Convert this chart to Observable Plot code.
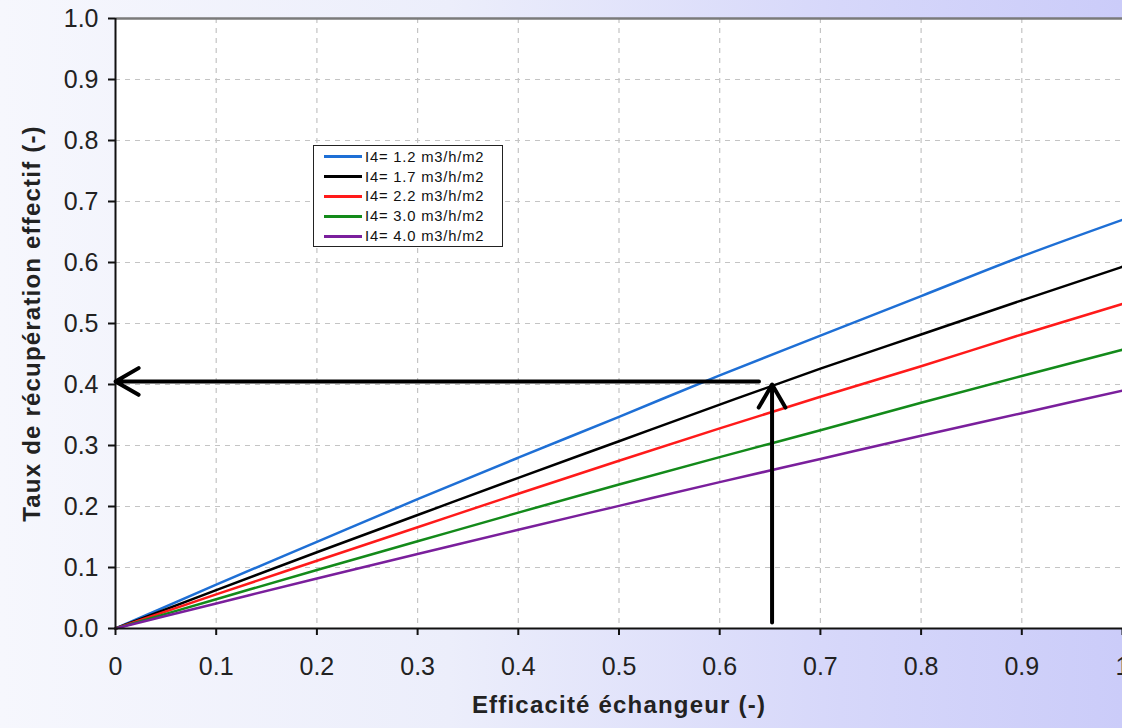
<!DOCTYPE html>
<html>
<head>
<meta charset="utf-8">
<script src="https://cdn.jsdelivr.net/npm/d3@7"></script>
<script src="https://cdn.jsdelivr.net/npm/@observablehq/plot@0.6"></script>
<style>
  html, body { margin: 0; padding: 0; }
  body {
    width: 1122px; height: 728px; overflow: hidden;
    background: linear-gradient(to right, #f6f7fd 0%, #eceefb 40%, #d6d7fa 75%, #cbccf9 100%);
    font-family: "Liberation Sans", Arial, sans-serif;
  }
  #wrap { position: relative; width: 1122px; height: 728px; }
  #legend {
    position: absolute; left: 313px; top: 145px; width: 190px; height: 102px;
    background: white; border: 1.5px solid #222; box-sizing: border-box;
    padding-top: 1px;
  }
  .row { display: flex; align-items: center; height: 19.8px; }
  .sw { width: 38px; height: 3px; margin-left: 10px; margin-right: 3px; }
  .lab { font-size: 14.8px; letter-spacing: 0.8px; color: #111; white-space: nowrap; }
</style>
</head>
<body>
<div id="wrap"></div>
<script>
// ---- data ----
const xValues = [0, 0.1, 0.2, 0.3, 0.4, 0.5, 0.6, 0.7, 0.8, 0.9, 1.0];
const seriesNames = ["I4= 1.2 m3/h/m2", "I4= 1.7 m3/h/m2", "I4= 2.2 m3/h/m2", "I4= 3.0 m3/h/m2", "I4= 4.0 m3/h/m2"];
const seriesColors = ["#1e6fd5", "#000000", "#ff1a1a", "#138a1a", "#7a1f9c"];
const y12 = [0, 0.072, 0.142, 0.212, 0.280, 0.347, 0.415, 0.480, 0.545, 0.610, 0.670];
const y17 = [0, 0.063, 0.125, 0.186, 0.247, 0.307, 0.367, 0.426, 0.482, 0.538, 0.593];
const y22 = [0, 0.056, 0.111, 0.166, 0.221, 0.275, 0.328, 0.380, 0.430, 0.482, 0.532];
const y30 = [0, 0.048, 0.096, 0.143, 0.190, 0.236, 0.281, 0.325, 0.370, 0.414, 0.457];
const y40 = [0, 0.041, 0.082, 0.122, 0.162, 0.201, 0.240, 0.278, 0.316, 0.353, 0.390];
const seriesValues = [y12, y17, y22, y30, y40];
const xTicks = [0, 0.1, 0.2, 0.3, 0.4, 0.5, 0.6, 0.7, 0.8, 0.9, 1];
const yTicks = [0, 0.1, 0.2, 0.3, 0.4, 0.5, 0.6, 0.7, 0.8, 0.9, 1.0];
const gridX = [0.1, 0.2, 0.3, 0.4, 0.5, 0.6, 0.7, 0.8, 0.9];
const gridY = [0.1, 0.2, 0.3, 0.4, 0.5, 0.6, 0.7, 0.8, 0.9];
// annotation arrows: [x1, y1, x2, y2]
const arrowStartX = [0.639, 0.652];
const arrowStartY = [0.405, 0.01];
const arrowEndX = [0.0, 0.652];
const arrowEndY = [0.405, 0.400];
const xLabel = "Efficacité échangeur (-)";
const yLabel = "Taux de récupération effectif (-)";

const rows = [];
seriesNames.forEach((s, i) => xValues.forEach((x, j) => rows.push({series: s, x, y: seriesValues[i][j]})));
const arrows = arrowStartX.map((d, i) => ({x1: d, y1: arrowStartY[i], x2: arrowEndX[i], y2: arrowEndY[i]}));

const font = "Liberation Sans, Arial, sans-serif";

const chart = Plot.plot({
  width: 1122, height: 728,
  marginLeft: 115, marginRight: 0, marginTop: 18, marginBottom: 100,
  style: {background: "transparent", fontFamily: font, color: "#222"},
  x: {domain: [0, 1], axis: null},
  y: {domain: [0, 1], axis: null},
  color: {domain: seriesNames, range: seriesColors},
  marks: [
    Plot.frame({fill: "white", stroke: null}),
    Plot.ruleX(gridX, {stroke: "#c4c4c4", strokeWidth: 1.2, strokeDasharray: "5,5"}),
    Plot.ruleY(gridY, {stroke: "#c4c4c4", strokeWidth: 1.2, strokeDasharray: "5,5"}),
    Plot.ruleY([1], {stroke: "#7a7a7a", strokeWidth: 2.5}),
    Plot.line(rows, {x: "x", y: "y", z: "series", stroke: "series", strokeWidth: 2.5, curve: "monotone-x"}),
    Plot.ruleX([0], {stroke: "#111", strokeWidth: 2}),
    Plot.ruleY([0], {stroke: "#111", strokeWidth: 2}),
    Plot.axisY({ticks: yTicks, tickFormat: d3.format(".1f"), tickSize: 7, tickPadding: 10, fontSize: 25, label: null, strokeWidth: 2, stroke: "#111"}),
    Plot.axisX({ticks: xTicks, tickFormat: d => d3.format("")(d), tickSize: 7, tickPadding: 22, fontSize: 25, label: null, strokeWidth: 2, stroke: "#111"}),
    Plot.arrow(arrows, {x1: "x1", y1: "y1", x2: "x2", y2: "y2", stroke: "#000", strokeWidth: 4, headLength: 10, headAngle: 60}),
    Plot.text([xLabel], {frameAnchor: "bottom", dy: 84, fontSize: 24, fontWeight: "bold", fill: "#222"}),
    Plot.text([yLabel], {frameAnchor: "left", textAnchor: "middle", dx: -83, rotate: -90, fontSize: 24, fontWeight: "bold", fill: "#222"})
  ]
});

d3.select(chart).selectAll("text").filter(function() {
  return this.textContent === xLabel || this.textContent === yLabel;
}).attr("letter-spacing", "1.2px");

const wrap = document.getElementById("wrap");
wrap.appendChild(chart);

const legend = document.createElement("div");
legend.id = "legend";
seriesNames.forEach((s, i) => {
  const row = document.createElement("div");
  row.className = "row";
  const sw = document.createElement("div");
  sw.className = "sw";
  sw.style.background = seriesColors[i];
  const lab = document.createElement("span");
  lab.className = "lab";
  lab.textContent = s;
  row.appendChild(sw); row.appendChild(lab);
  legend.appendChild(row);
});
wrap.appendChild(legend);
</script>
</body>
</html>
